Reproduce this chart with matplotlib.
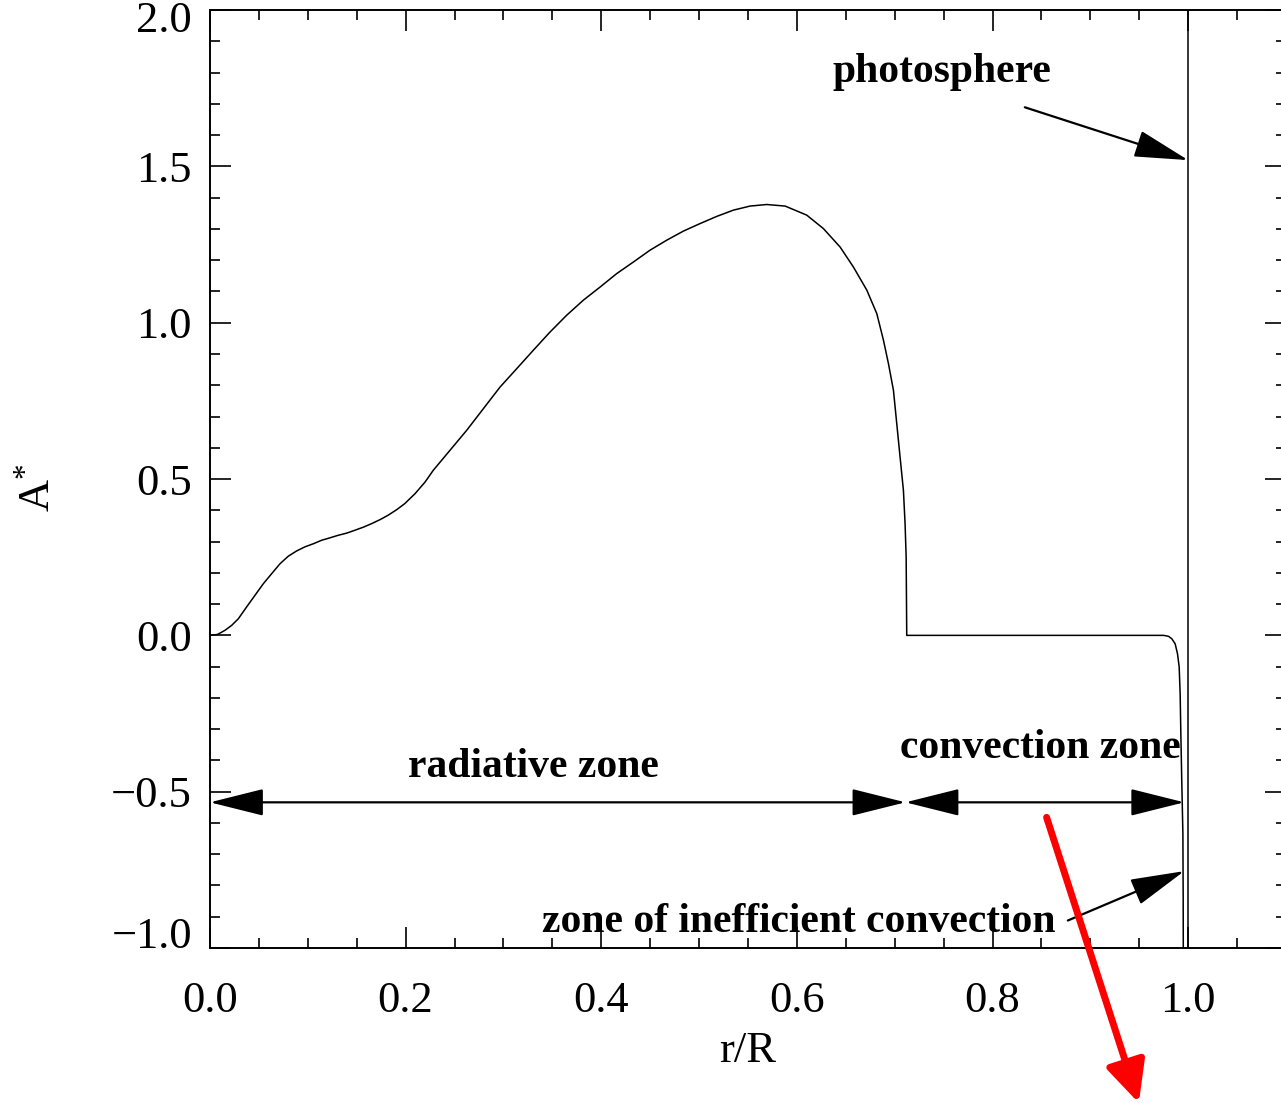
import matplotlib
matplotlib.use("Agg")
import matplotlib.pyplot as plt
from matplotlib.patches import FancyArrowPatch
from matplotlib.ticker import MultipleLocator, FuncFormatter
from matplotlib.transforms import ScaledTranslation

# A* profile against fractional radius
r_over_R = [0.000, 0.0078, 0.0153, 0.0222, 0.0290, 0.0375, 0.0460, 0.0545,
            0.0630, 0.0716, 0.0800, 0.0886, 0.0970, 0.1057, 0.1140, 0.1227,
            0.1310, 0.1398, 0.1480, 0.1568, 0.1650, 0.1738, 0.1820, 0.1909,
            0.1990, 0.2096, 0.2198, 0.2283, 0.2454, 0.2625, 0.2795, 0.2965,
            0.3136, 0.3306, 0.3476, 0.3647, 0.3817, 0.3988, 0.4158, 0.4328,
            0.4499, 0.4670, 0.4840, 0.5010, 0.5181, 0.5351, 0.5521, 0.5692,
            0.5880, 0.6101, 0.6271, 0.6442, 0.6578, 0.6715, 0.6817, 0.6885,
            0.6936, 0.6987, 0.7021, 0.7055, 0.7089, 0.7106, 0.7117, 0.7123,
            0.9748, 0.9799, 0.9833, 0.9867, 0.9891, 0.9908, 0.9918, 0.9925,
            0.9935, 0.9946, 0.9949, 0.9950]
a_star = [0.000, 0.003, 0.016, 0.032, 0.053, 0.091, 0.128, 0.165,
          0.197, 0.229, 0.253, 0.270, 0.283, 0.293, 0.304, 0.312,
          0.320, 0.327, 0.336, 0.346, 0.357, 0.370, 0.384, 0.402,
          0.421, 0.453, 0.490, 0.528, 0.592, 0.656, 0.725, 0.794,
          0.853, 0.912, 0.970, 1.024, 1.072, 1.114, 1.157, 1.194,
          1.232, 1.264, 1.293, 1.317, 1.340, 1.360, 1.373, 1.378,
          1.373, 1.344, 1.301, 1.242, 1.178, 1.104, 1.029, 0.944,
          0.869, 0.784, 0.677, 0.570, 0.464, 0.357, 0.250, 0.000,
          0.000, -0.003, -0.011, -0.027, -0.059, -0.101, -0.187, -0.314,
          -0.474, -0.634, -0.848, -1.000]

r_photosphere = 1.0
r_base_cz = 0.711
r_inefficient = 0.996
zone_arrow_y = -0.534

SERIF = "Liberation Serif"
plt.rcParams["font.family"] = [SERIF, "DejaVu Serif"]
plt.rcParams["mathtext.fontset"] = "custom"
plt.rcParams["mathtext.rm"] = SERIF
plt.rcParams["mathtext.it"] = SERIF

fig = plt.figure(figsize=(12.81, 11.03), dpi=100)
ax = fig.add_axes([0.1639, 0.1405, 0.840, 0.8504])

ax.plot(r_over_R, a_star, color="black", linewidth=1.1)
ax.axvline(r_photosphere, color="black", linewidth=1.1)

ax.set_xlim(0.0, 1.1)
ax.set_ylim(-1.0, 2.0)
ax.xaxis.set_major_locator(MultipleLocator(0.2))
ax.xaxis.set_minor_locator(MultipleLocator(0.05))
ax.yaxis.set_major_locator(MultipleLocator(0.5))
ax.yaxis.set_minor_locator(MultipleLocator(0.1))
fmt = FuncFormatter(lambda v, pos: f"{v:.1f}".replace("-", "\u2212"))
ax.xaxis.set_major_formatter(fmt)
ax.yaxis.set_major_formatter(fmt)
ax.tick_params(which="both", direction="in", top=True, right=True,
               width=1.2, labelsize=32)
ax.tick_params(which="major", length=15)
ax.tick_params(which="minor", length=7)
ax.tick_params(axis="x", pad=24)
ax.tick_params(axis="y", pad=13)
for sp in ax.spines.values():
    sp.set_linewidth(1.4)

ax.set_xlabel("r/R", fontsize=32)
ax.set_ylabel(r"A$^{*}$", fontsize=32)
ax.xaxis.set_label_coords(0.5, -0.088)
ax.yaxis.set_label_coords(-0.141, 0.491)

bold = dict(fontsize=30, fontweight="bold", family=SERIF, ha="center",
            va="baseline")
ax.text(0.748, 1.770, "photosphere", **bold)
ax.text(0.331, -0.454, "radiative zone", **bold)
ax.text(0.849, -0.393, "convection zone", **bold)
ax.text(0.602, -0.950, "zone of inefficient convection", **bold)


def black_arrow(p0, p1, style):
    arr = FancyArrowPatch(p0, p1, arrowstyle=style, mutation_scale=1,
                          shrinkA=0, shrinkB=0, color="black",
                          linewidth=1.6, clip_on=False)
    ax.add_patch(arr)


head = "head_length=34,head_width=8.5"
black_arrow((0.833, 1.689), (r_photosphere, 1.520), "-|>," + head)
black_arrow((0.0, zone_arrow_y), (r_base_cz, zone_arrow_y), "<|-|>," + head)
black_arrow((r_base_cz, zone_arrow_y), (r_inefficient, zone_arrow_y),
            "<|-|>," + head)
black_arrow((0.877, -0.912), (r_inefficient, -0.754), "-|>," + head)

# red pointer running off the bottom of the figure
red = FancyArrowPatch((0.817, 0.259), (0.889, 0.0),
                      transform=fig.transFigure, mutation_scale=1,
                      arrowstyle="-|>,head_length=25,head_width=12",
                      shrinkA=0, shrinkB=0, color="#ff0000", linewidth=5)
fig.add_artist(red)

# keep the end labels of the y axis inside the frame
fig.canvas.draw()
for tick in ax.yaxis.get_major_ticks():
    loc = tick.get_loc()
    if abs(loc - 2.0) < 1e-6:
        tick.label1.set_va("top")
        tick.label1.set_transform(tick.label1.get_transform()
                                  + ScaledTranslation(0, 0.09,
                                                      fig.dpi_scale_trans))
    elif abs(loc + 1.0) < 1e-6:
        tick.label1.set_va("baseline")

fig.savefig("out.png", dpi=100)
